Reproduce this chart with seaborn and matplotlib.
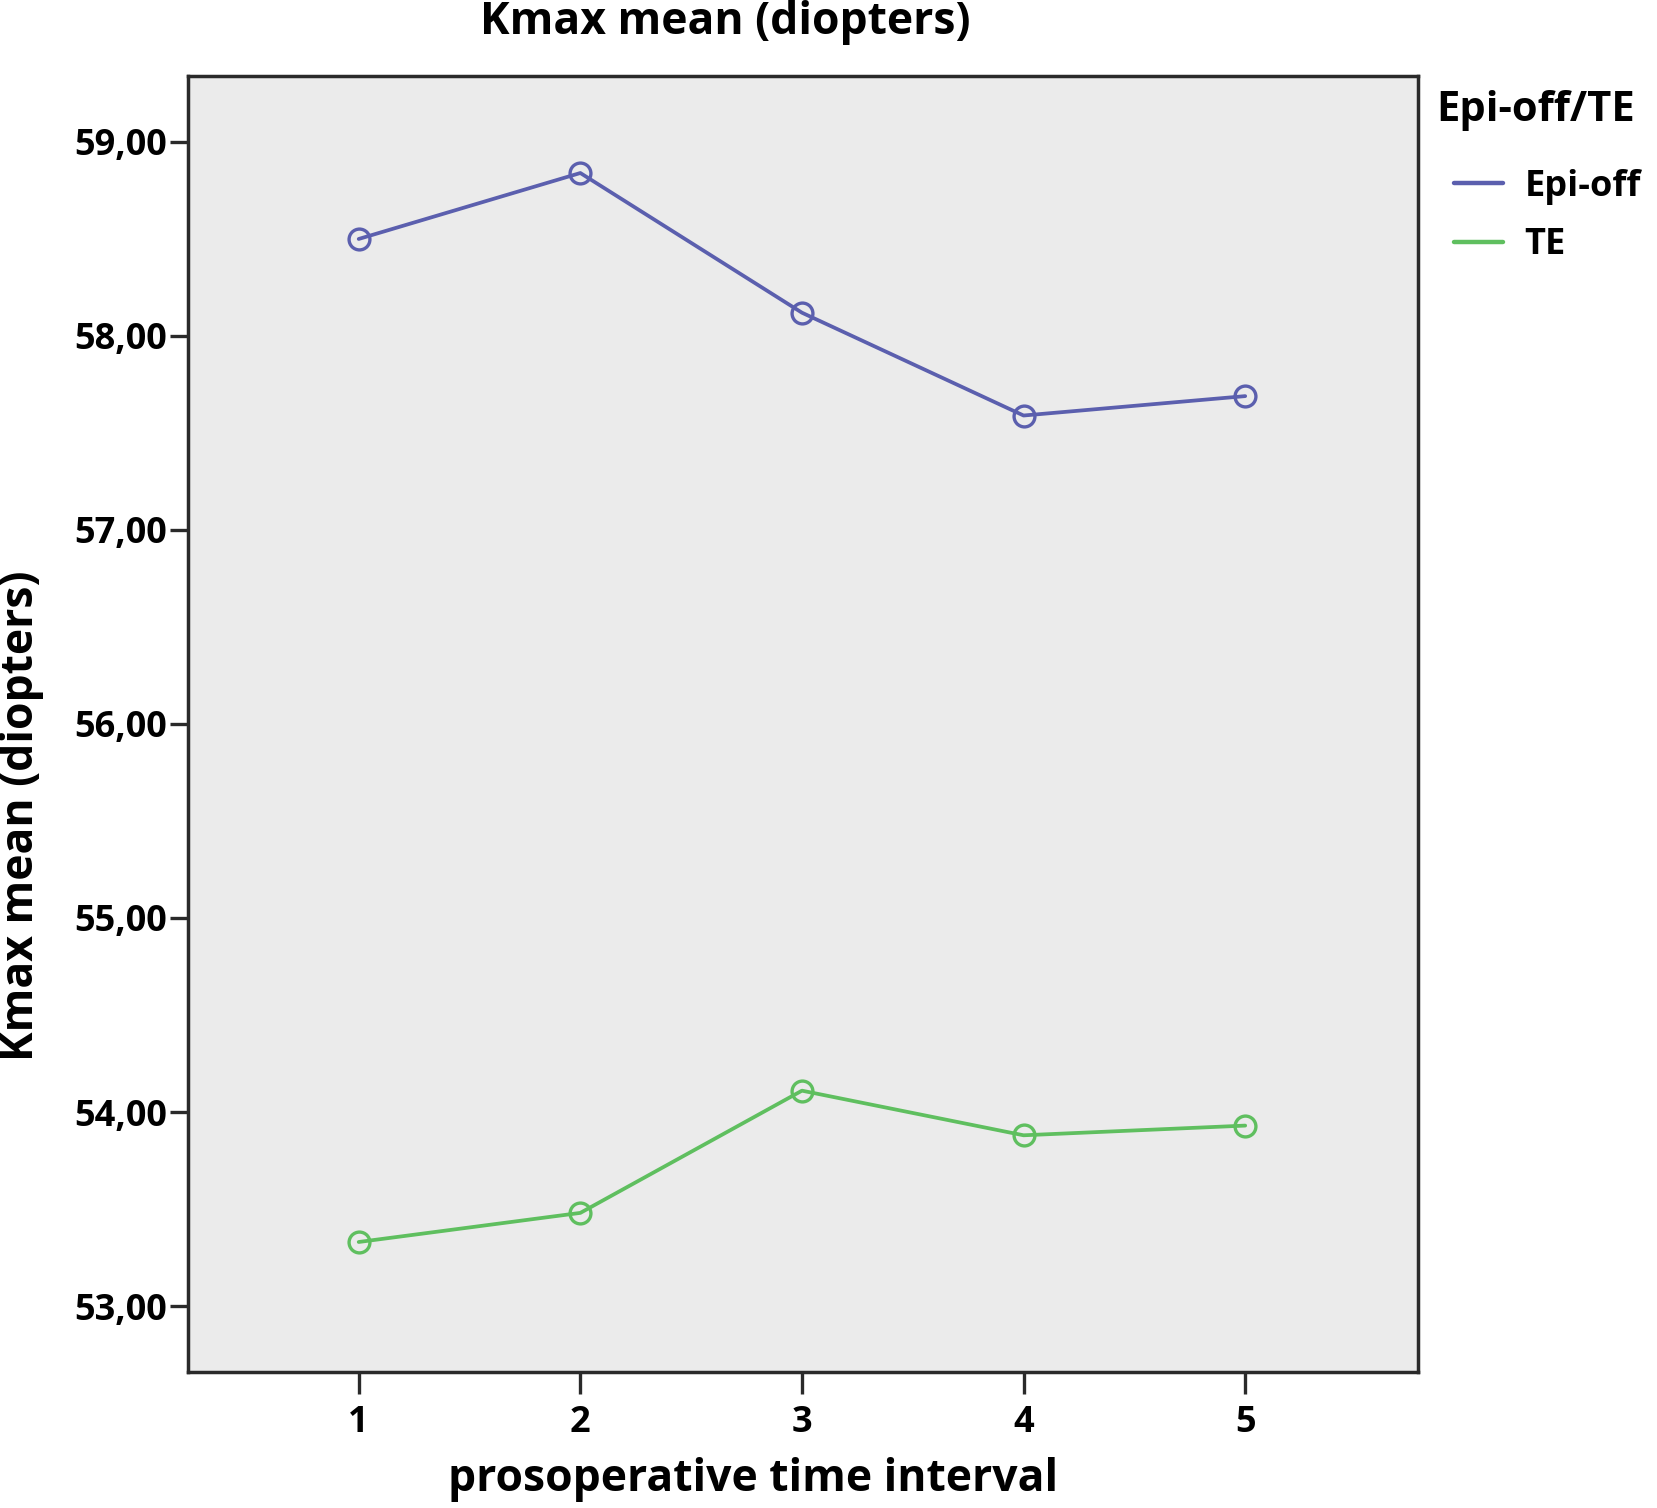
import matplotlib
matplotlib.use("Agg")
import matplotlib.pyplot as plt
from matplotlib.lines import Line2D
import seaborn as sns
import pandas as pd

intervals = [1, 2, 3, 4, 5]
epi_off = [58.50, 58.84, 58.12, 57.59, 57.69]
te = [53.33, 53.48, 54.11, 53.88, 53.93]
groups = ["Epi-off", "TE"]
yticks = [53, 54, 55, 56, 57, 58, 59]
colors = {"Epi-off": "#5b5fae", "TE": "#5fbf5f"}

df = pd.DataFrame({
    "interval": intervals * 2,
    "kmax": epi_off + te,
    "group": ["Epi-off"] * 5 + ["TE"] * 5,
})

sns.set_style("white")
plt.rcParams["font.family"] = ["Open Sans", "DejaVu Sans"]
plt.rcParams["font.weight"] = "bold"
plt.rcParams["text.color"] = "black"
plt.rcParams["xtick.color"] = "black"
plt.rcParams["ytick.color"] = "black"

fig = plt.figure(figsize=(16.57, 15.08), dpi=100)
ax = fig.add_axes([0.1135, 0.0902, 0.7423, 0.8594])
ax.set_facecolor("#ebebeb")

sns.lineplot(data=df, x="interval", y="kmax", hue="group", palette=colors,
             marker="o", markersize=15, markerfacecolor="none",
             markeredgewidth=2.4, linewidth=2.7, legend=False, ax=ax)
for ln in ax.lines:
    ln.set_markeredgecolor(ln.get_color())

ax.set_xlim(0.23, 5.78)
ax.set_ylim(52.66, 59.34)
ax.set_xticks(intervals)
ax.set_xticklabels([str(i) for i in intervals])
ax.set_yticks(yticks)
ax.set_yticklabels([f"{v},00" for v in yticks])
for s in ax.spines.values():
    s.set_visible(True)
    s.set_color("#2a2a2a")
    s.set_linewidth(2.5)
ax.tick_params(axis="x", length=16, width=2.4, color="#2a2a2a", labelcolor="black",
               labelsize=26, pad=8, bottom=True)
ax.tick_params(axis="y", length=13, width=2.4, color="#2a2a2a", labelcolor="black",
               labelsize=26, pad=2, left=True)
for lab in ax.get_xticklabels() + ax.get_yticklabels():
    lab.set_fontweight("bold")

ax.set_xlabel("")
ax.set_ylabel("")
fig.text(0.4375, 0.985, "Kmax mean (diopters)", ha="center", va="center",
         fontsize=32, fontweight="bold", color="black")
fig.text(0.4545, 0.019, "prosoperative time interval", ha="center", va="center",
         fontsize=32, fontweight="bold", color="black")
fig.text(0.013, 0.459, "Kmax mean (diopters)", ha="center", va="center",
         rotation=90, fontsize=32, fontweight="bold", color="black")

# legend title and entries
fig.text(0.8665, 0.927, "Epi-off/TE", ha="left", va="center",
         fontsize=30, fontweight="bold", color="black")
handles = [Line2D([0], [0], color=colors[g], lw=3.2) for g in groups]
leg = fig.legend(handles, groups, loc="upper left",
                 bbox_to_anchor=(0.858, 0.9096), frameon=False,
                 fontsize=26, handlelength=1.35,
                 handletextpad=0.6, labelspacing=0.62)
for t in leg.get_texts():
    t.set_fontweight("bold")
    t.set_color("black")

fig.savefig("out.png", dpi=100)
